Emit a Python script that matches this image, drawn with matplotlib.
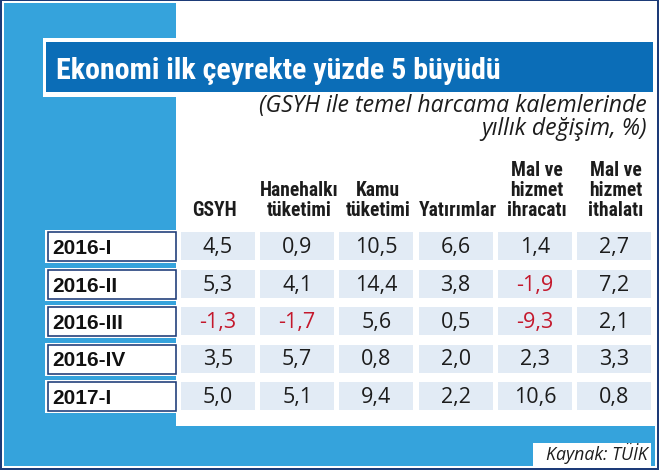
import matplotlib
matplotlib.use('Agg')
import matplotlib.pyplot as plt
import matplotlib.patches as mpatches
from matplotlib import font_manager as fm

rows = ['2016-I', '2016-II', '2016-III', '2016-IV', '2017-I']
headers = [['GSYH'], ['Hanehalkı', 'tüketimi'], ['Kamu', 'tüketimi'], ['Yatırımlar'],
           ['Mal ve', 'hizmet', 'ihracatı'], ['Mal ve', 'hizmet', 'ithalatı']]
gsyh = [4.5, 5.3, -1.3, 3.5, 5.0]
hanehalki = [0.9, 4.1, -1.7, 5.7, 5.1]
kamu = [10.5, 14.4, 5.6, 0.8, 9.4]
yatirim = [6.6, 3.8, 0.5, 2.0, 2.2]
ihracat = [1.4, -1.9, -9.3, 2.3, 10.6]
ithalat = [2.7, 7.2, 2.1, 3.3, 0.8]
columns = [gsyh, hanehalki, kamu, yatirim, ihracat, ithalat]

title = 'Ekonomi ilk çeyrekte yüzde 5 büyüdü'
subtitle = '(GSYH ile temel harcama kalemlerinde\nyıllık değişim, %)'
source = 'Kaynak: TÜİK'

light_blue = '#35a3dc'
bar_blue = '#0b6db7'
navy = '#1d3b78'
cell_bg = '#e2ebf5'
red = '#c4182c'
ink = '#1c1c1c'

# pick the narrowest bold family that is installed
names = {f.name for f in fm.fontManager.ttflist}
narrow_fam = 'DejaVu Sans'
for n in ['Liberation Sans Narrow', 'Roboto Condensed', 'Noto Sans Condensed',
          'Noto Sans ExtraCondensed', 'Open Sans Condensed', 'Roboto']:
    if n in names:
        narrow_fam = n
        break
narrow = [narrow_fam, 'DejaVu Sans']
plain = ['Open Sans', 'DejaVu Sans']

fig = plt.figure(figsize=(6.6, 4.72), dpi=100)
ax = fig.add_axes([0, 0, 1, 1])
ax.set_xlim(0, 660)
ax.set_ylim(472, 0)
ax.axis('off')
px = 0.72  # one pixel in points


def rect(x0, y0, x1, y1, fc, ec='none', lw=0, z=1):
    ax.add_patch(mpatches.Rectangle((x0, y0), x1 - x0, y1 - y0, facecolor=fc,
                                    edgecolor=ec, linewidth=lw, zorder=z))


def fit(t, width):
    r = fig.canvas.get_renderer()
    bb = t.get_window_extent(r)
    t.set_fontsize(t.get_fontsize() * width / bb.width)


def size_for(s, width, **kw):
    t = ax.text(0, 0, s, fontsize=10, **kw)
    fit(t, width)
    fs = t.get_fontsize()
    t.remove()
    return fs


# frame
rect(0, 0, 660, 472, 'white', z=0)
rect(0, 0, 659, 470, navy, z=0)
rect(2, 1, 657, 468, 'white', z=0)
rect(4, 3, 655, 466, light_blue, z=0)

# white panel
rect(176, 3, 655, 426, 'white', z=1)

# title bar
rect(43, 38, 655, 97, 'white', z=2)
rect(46, 42, 653, 92, bar_blue, z=3)
t = ax.text(56, 79, title, color='white', fontsize=22, fontweight='bold',
            family=narrow, fontstretch='condensed', va='baseline', ha='left', zorder=4)
fit(t, 446)

# subtitle, two lines in one text (baseline = last line)
sub_fs = size_for('(GSYH ile temel harcama kalemlerinde', 387, style='italic', family=plain)
ax.text(647, 135, subtitle, color=ink, fontsize=sub_fs, style='italic', family=plain,
        ha='right', va='baseline', multialignment='right', linespacing=0.95, zorder=4)

# column headers and cells
col_x0 = 181
col_step = 79.2
col_w = 74
row_y0 = 232
row_step = 37.5
row_h = 28

hkw = dict(fontweight='bold', family=narrow, fontstretch='condensed')
head_fs = min(size_for('Hanehalkı', 78, **hkw), size_for('Yatırımlar', 78, **hkw))

for j, lines in enumerate(headers):
    cx = col_x0 + col_step * j + col_w / 2 + 2
    if j == 0:
        cx -= 6
    n = len(lines)
    for k, line in enumerate(lines):
        ax.text(cx, 216 - 20 * (n - 1 - k), line, color=ink, fontsize=head_fs,
                ha='center', va='baseline', zorder=4, **hkw)

for i, name in enumerate(rows):
    y0 = row_y0 + row_step * i
    rect(45, y0 - 2, 177, y0 + row_h + 3, 'white', z=2)
    rect(48, y0, 175.5, y0 + row_h + 1, 'white', ec=navy, lw=1.6 * px, z=3)
    ax.text(52, y0 + 22, name, color='#111111', fontsize=15, fontweight='bold',
            family=['Liberation Sans', 'DejaVu Sans'], ha='left', va='baseline', zorder=4)
    for j, col in enumerate(columns):
        x0 = col_x0 + col_step * j
        rect(x0, y0, x0 + col_w, y0 + row_h, cell_bg, z=2)
        v = col[i]
        s = f'{v:.1f}'.replace('.', ',')
        ax.text(x0 + col_w / 2, y0 + 21, s, color=red if v < 0 else ink,
                fontsize=15.5, family=plain, ha='center', va='baseline', zorder=4)

# source box
rect(533, 443, 651, 468, 'white', z=2)
ts = ax.text(648, 460, source, color=ink, fontsize=12, style='italic',
             family=plain, ha='right', va='baseline', zorder=4)
fit(ts, 101)

fig.savefig('out.png', dpi=100)
